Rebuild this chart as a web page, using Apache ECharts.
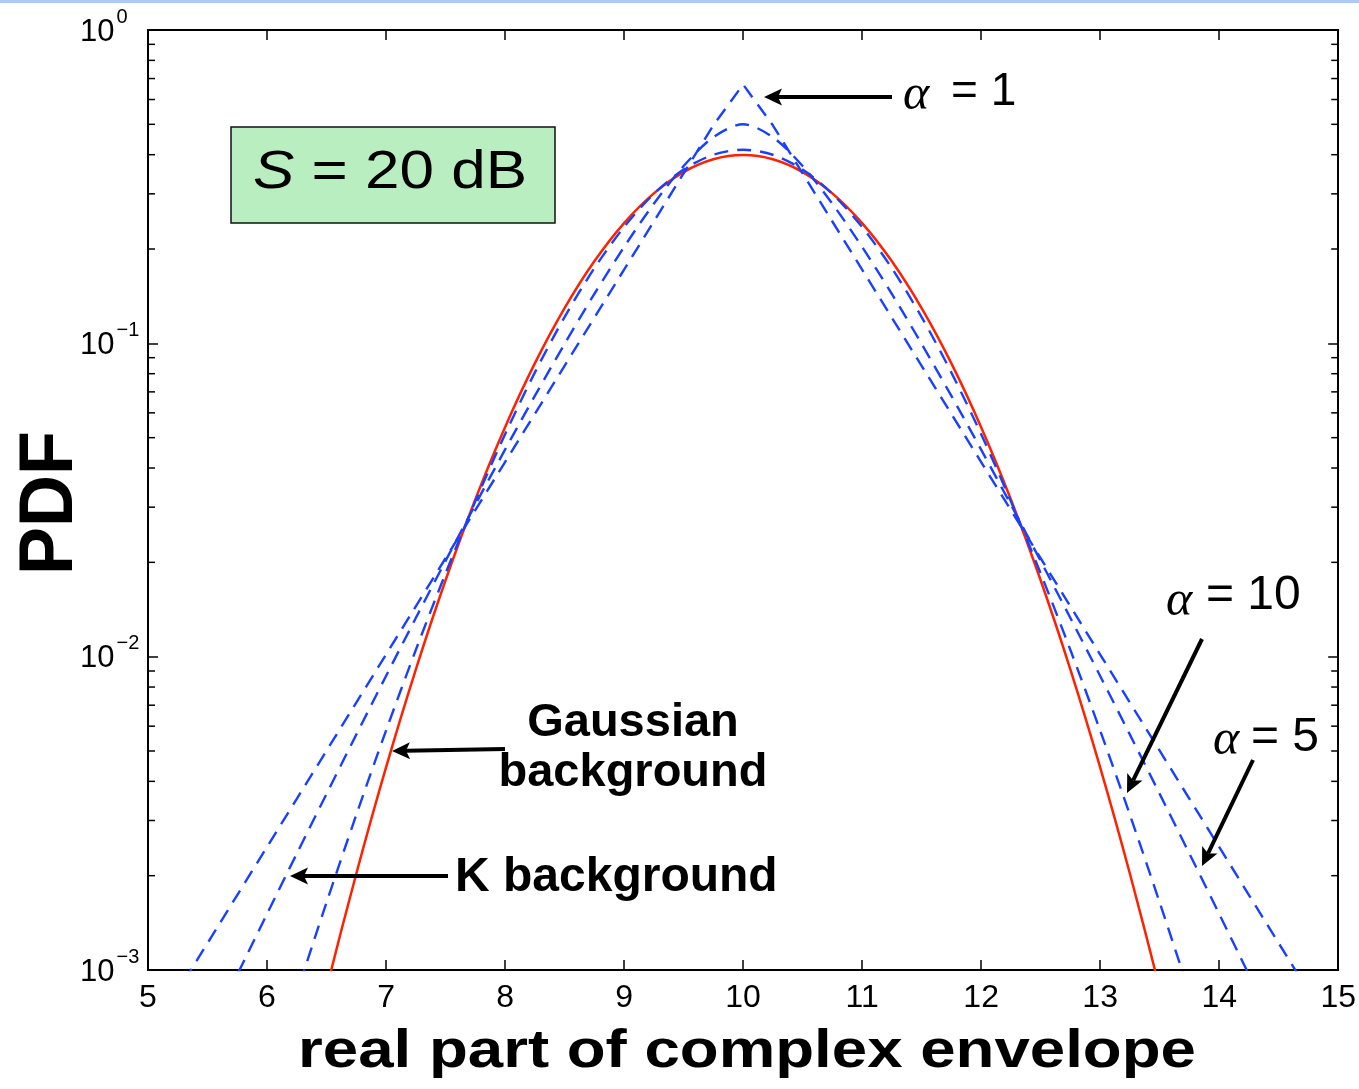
<!DOCTYPE html>
<html>
<head>
<meta charset="utf-8">
<script src="https://cdn.jsdelivr.net/npm/echarts@6/dist/echarts.min.js"></script>
<style>
html,body{margin:0;padding:0;background:#fff;}
#chart{width:1359px;height:1089px;}
</style>
</head>
<body>
<div id="chart"></div>
<script>
// ---------------- data ----------------
const xValues = [5,5.25,5.5,5.75,6,6.25,6.5,6.75,7,7.25,7.5,7.75,8,8.25,8.5,8.75,9,9.25,9.5,9.75,
  10,10.25,10.5,10.75,11,11.25,11.5,11.75,12,12.25,12.5,12.75,13,13.25,13.5,13.75,14,14.25,14.5,14.75,15];

// Gaussian background (solid red)
const gaussianBg = [1.49e-6,5.03e-6,1.60e-5,4.77e-5,1.338e-4,3.525e-4,8.727e-4,2.029e-3,4.432e-3,9.094e-3,
  0.01753,0.03174,0.05399,0.08628,0.1295,0.1827,0.2420,0.3011,0.3521,0.3867,
  0.3989,
  0.3867,0.3521,0.3011,0.2420,0.1827,0.1295,0.08628,0.05399,0.03174,0.01753,
  9.094e-3,4.432e-3,2.029e-3,8.727e-4,3.525e-4,1.338e-4,4.77e-5,1.60e-5,5.03e-6,1.49e-6];

// K background, alpha = 1 (dashed blue, sharp peak)
const kAlpha1 = [6.006e-4,8.553e-4,1.218e-3,1.735e-3,2.470e-3,3.518e-3,5.010e-3,7.136e-3,0.01016,0.01447,
  0.02061,0.02935,0.04180,0.05952,0.08476,0.1207,0.1719,0.2448,0.3487,0.4965,
  0.67,
  0.4965,0.3487,0.2448,0.1719,0.1207,0.08476,0.05952,0.04180,0.02935,0.02061,
  0.01447,0.01016,7.136e-3,5.010e-3,3.518e-3,2.470e-3,1.735e-3,1.218e-3,8.553e-4,6.006e-4];

// K background, alpha = 5 (dashed blue, middle curve)
const kAlpha5 = [2.497e-4,3.930e-4,6.171e-4,9.665e-4,1.510e-3,2.351e-3,3.648e-3,5.638e-3,8.676e-3,0.01328,
  0.02021,0.03055,0.04579,0.06794,0.09957,0.1437,0.2030,0.2789,0.3679,0.4549,
  0.5,
  0.4549,0.3679,0.2789,0.2030,0.1437,0.09957,0.06794,0.04579,0.03055,0.02021,
  0.01328,8.676e-3,5.638e-3,3.648e-3,2.351e-3,1.510e-3,9.665e-4,6.171e-4,3.930e-4,2.497e-4];

// K background, alpha = 10 (dashed blue, closest to Gaussian)
const kAlpha10 = [2.2e-5,4.8e-5,1.01e-4,2.09e-4,4.244e-4,8.435e-4,1.642e-3,3.127e-3,5.810e-3,0.01050,
  0.01844,0.03131,0.05128,0.08065,0.1213,0.1736,0.2351,0.2999,0.3585,0.3998,
  0.4147,
  0.3998,0.3585,0.2999,0.2351,0.1736,0.1213,0.08065,0.05128,0.03131,0.01844,
  0.01050,5.810e-3,3.127e-3,1.642e-3,8.435e-4,4.244e-4,2.09e-4,1.01e-4,4.8e-5,2.2e-5];

// axis ticks
const xMin = 5, xMax = 15, xStep = 1;
const yMin = 0.001, yMax = 1;
const yMinorTicks = [0.002,0.003,0.004,0.005,0.006,0.007,0.008,0.009,
  0.02,0.03,0.04,0.05,0.06,0.07,0.08,0.09,
  0.2,0.3,0.4,0.5,0.6,0.7,0.8,0.9];

// ---------------- chart ----------------
const FONT = "'Liberation Sans', Arial, Helvetica, sans-serif";
const RED = '#ff2200';
const BLUE = '#1a40ff';
const DASH = [14, 9];
const chart = echarts.init(document.getElementById('chart'), null, {renderer: 'canvas'});

const pairs = arr => xValues.map((x, i) => [x, arr[i]]);

function arrow(x1, y1, x2, y2) {
  const L = 18, W = 8.5, notch = 4;
  const dx = x2 - x1, dy = y2 - y1, len = Math.hypot(dx, dy);
  const ux = dx / len, uy = dy / len, px = -uy, py = ux;
  const bx = x2 - ux * L, by = y2 - uy * L;
  return [
    {type: 'line', z: 100, shape: {x1: x1, y1: y1, x2: bx + ux * notch, y2: by + uy * notch},
      style: {stroke: '#000', lineWidth: 4}},
    {type: 'polygon', z: 100, shape: {points: [[x2, y2], [bx + px * W, by + py * W], [bx + ux * notch, by + uy * notch], [bx - px * W, by - py * W]]},
      style: {fill: '#000'}}
  ];
}
function text(str, x, y, o) {
  return {
    type: 'text', z: 100, x: x, y: y,
    scaleX: o.sx || 1, scaleY: o.sy || 1, rotation: o.rot || 0,
    style: {
      text: str, fill: '#000',
      fontSize: o.size, fontFamily: o.family || FONT, fontWeight: o.weight || 'normal', fontStyle: o.style || 'normal',
      align: o.align || 'left', textAlign: o.align || 'left',
      verticalAlign: 'middle', textVerticalAlign: 'middle',
      rich: o.rich
    }
  };
}

const alphaStyle = {size: 50, family: "'Liberation Serif', 'Times New Roman', serif", style: 'italic'};

const graphics = [
  {type: 'rect', z: 100, shape: {x: 0, y: 0, width: 1359, height: 3}, style: {fill: '#a9cbf5'}},
  {type: 'rect', z: 100, shape: {x: 231, y: 127, width: 324, height: 96}, style: {fill: '#b9efc0', stroke: '#111', lineWidth: 1.5}},
  text('{i|S}{n| = 20 dB}', 253, 173, {size: 53, sx: 1.17, rich: {
    i: {fontSize: 53, fontStyle: 'italic', fontFamily: FONT, fill: '#000'},
    n: {fontSize: 53, fontFamily: FONT, fill: '#000'}}}),
  text('real part of complex envelope', 747, 1052, {size: 53, weight: 'bold', align: 'center', sx: 1.2}),
  text('PDF', 51, 503, {size: 72, weight: 'bold', align: 'center', rot: Math.PI / 2, sy: 1.06}),
  text('Gaussian', 633, 723, {size: 47, weight: 'bold', align: 'center'}),
  text('background', 633, 773, {size: 47, weight: 'bold', align: 'center'}),
  text('K background', 455, 878, {size: 48, weight: 'bold', align: 'left'}),
  text('\u03b1', 903, 96, alphaStyle),
  text('= 1', 951, 92, {size: 46}),
  text('\u03b1', 1166, 602, alphaStyle),
  text('= 10', 1206, 596, {size: 48}),
  text('\u03b1', 1213, 741, alphaStyle),
  text('= 5', 1251, 738, {size: 48}),
  ...arrow(892, 97, 764, 97),
  ...arrow(505, 749, 392, 751),
  ...arrow(448, 876, 290, 876),
  ...arrow(1202, 639, 1127, 793),
  ...arrow(1253, 760, 1202, 866)
];

const axisLineStyle = {show: true, lineStyle: {color: '#000', width: 2}};
const tickStyle = {show: true, inside: true, length: 10, lineStyle: {color: '#000', width: 1.5}};

const option = {
  animation: false,
  backgroundColor: '#fff',
  grid: {left: 148, right: 20, top: 30, bottom: 119, containLabel: false},
  xAxis: [
    {type: 'value', position: 'bottom', min: xMin, max: xMax, interval: xStep,
      axisLine: axisLineStyle, axisTick: tickStyle, splitLine: {show: false},
      axisLabel: {color: '#000', fontSize: 32, fontFamily: FONT, margin: 12}},
    {type: 'value', position: 'top', min: xMin, max: xMax, interval: xStep,
      axisLine: axisLineStyle, axisTick: tickStyle, splitLine: {show: false}, axisLabel: {show: false}}
  ],
  yAxis: [
    {type: 'log', logBase: 10, position: 'left', min: yMin, max: yMax,
      axisLine: axisLineStyle, axisTick: tickStyle, splitLine: {show: false},
      axisLabel: {
        color: '#000', align: 'left', margin: 68,
        formatter: v => {
          const e = Math.round(Math.log10(v));
          return '{b|10}{s|' + (e === 0 ? '0' : '\u2212' + (-e)) + '}';
        },
        rich: {
          b: {fontSize: 31, lineHeight: 46, padding: [4, 0, 0, 0], fontFamily: FONT, color: '#000'},
          s: {fontSize: 20, lineHeight: 20, verticalAlign: 'top', padding: [0, 0, 0, 2], fontFamily: FONT, color: '#000'}
        }
      }},
    {type: 'log', logBase: 10, position: 'right', min: yMin, max: yMax,
      axisLine: axisLineStyle, axisTick: tickStyle, splitLine: {show: false}, axisLabel: {show: false}}
  ],
  series: [
    {type: 'custom', name: 'minor ticks', xAxisIndex: 0, yAxisIndex: 0, silent: true, clip: false,
      data: yMinorTicks.map(v => [xMin, v]),
      renderItem: (params, api) => {
        const p = api.coord([xMin, api.value(1)]);
        const cs = params.coordSys;
        const st = {stroke: '#000', lineWidth: 1.5};
        return {type: 'group', children: [
          {type: 'line', shape: {x1: cs.x, y1: p[1], x2: cs.x + 7, y2: p[1]}, style: st},
          {type: 'line', shape: {x1: cs.x + cs.width, y1: p[1], x2: cs.x + cs.width - 7, y2: p[1]}, style: st}
        ]};
      }},
    {type: 'line', name: 'Gaussian background', data: pairs(gaussianBg), showSymbol: false, z: 3,
      smooth: 0.3,
      lineStyle: {color: RED, width: 2.5, type: 'solid'}},
    {type: 'line', name: 'alpha = 1', data: pairs(kAlpha1), showSymbol: false, z: 4,
      lineStyle: {color: BLUE, width: 2.4, type: DASH}},
    {type: 'line', name: 'alpha = 5', data: pairs(kAlpha5), showSymbol: false, z: 4,
      smooth: 0.3,
      lineStyle: {color: BLUE, width: 2.4, type: DASH}},
    {type: 'line', name: 'alpha = 10', data: pairs(kAlpha10), showSymbol: false, z: 4,
      smooth: 0.3,
      lineStyle: {color: BLUE, width: 2.4, type: DASH}}
  ],
  graphic: graphics
};
chart.setOption(option);
</script>
</body>
</html>
